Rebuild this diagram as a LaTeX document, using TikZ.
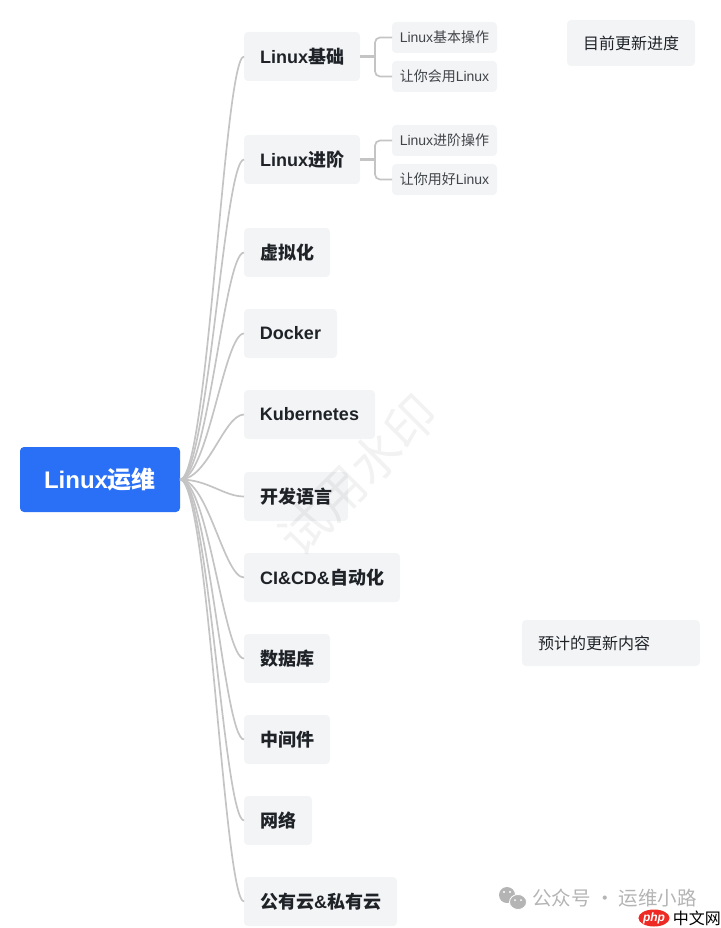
\documentclass[tikz,border=0pt]{standalone}
\usepackage{fontspec}
\usepackage{xcolor}
\usetikzlibrary{positioning,shapes.geometric}
\setmainfont{Liberation Sans}
\newfontfamily\cjk{Noto Sans CJK SC}
\newcommand{\zh}[1]{{\cjk #1}}
\definecolor{rootblue}{HTML}{2970F6}
\definecolor{boxgray}{HTML}{F3F4F6}
\definecolor{inkdark}{HTML}{1F2328}
\definecolor{linegray}{HTML}{C4C4C4}
\definecolor{markgray}{HTML}{B4B4B4}
\definecolor{phpred}{HTML}{EE2A24}
\tikzstyle{box} = [rectangle, rounded corners=4pt, fill=boxgray, text=inkdark,
    inner sep=0pt, outer sep=0pt, align=center]
\tikzstyle{rootbox} = [box, fill=rootblue, text=white, minimum width=160pt,
    minimum height=65pt, font=\bfseries\fontsize{24}{28}\selectfont]
\tikzstyle{topic} = [box, minimum height=49pt, font=\bfseries\fontsize{18}{22}\selectfont]
\tikzstyle{subtopic} = [box, minimum width=105pt, minimum height=31pt,
    text=inkdark!85, font=\fontsize{14}{17}\selectfont]
\tikzstyle{note} = [box, minimum height=46pt, font=\fontsize{16}{20}\selectfont]
\tikzstyle{branch} = [draw=linegray, line width=1.7pt]
\tikzstyle{stem} = [draw=linegray, line width=2.2pt]
\tikzstyle{fork} = [branch, rounded corners=5pt]

\begin{document}
\begin{tikzpicture}[x=1pt, y=-1pt]
  \useasboundingbox (0,0) rectangle (720,928);

  % Place nodes
  \node [rootbox] (root) at (100,479.5) {Linux\zh{运维}};
  \node [topic, minimum width=116pt, anchor=north west] (basic) at (244,32) {Linux\zh{基础}};
  \node [topic, minimum width=116pt, below=54pt of basic.south west, anchor=north west] (advanced) {Linux\zh{进阶}};
  \node [topic, minimum width=86pt, below=44pt of advanced.south west, anchor=north west] (virtual) {\zh{虚拟化}};
  \node [topic, minimum width=93pt, below=32pt of virtual.south west, anchor=north west] (docker) {Docker};
  \node [topic, minimum width=131pt, below=32pt of docker.south west, anchor=north west] (kube) {Kubernetes};
  \node [topic, minimum width=104pt, below=33pt of kube.south west, anchor=north west] (lang) {\zh{开发语言}};
  \node [topic, minimum width=156pt, below=32pt of lang.south west, anchor=north west] (cicd) {CI\&CD\&\zh{自动化}};
  \node [topic, minimum width=86pt, below=32pt of cicd.south west, anchor=north west] (dbase) {\zh{数据库}};
  \node [topic, minimum width=86pt, below=32pt of dbase.south west, anchor=north west] (middle) {\zh{中间件}};
  \node [topic, minimum width=68pt, below=32pt of middle.south west, anchor=north west] (network) {\zh{网络}};
  \node [topic, minimum width=153pt, below=32pt of network.south west, anchor=north west] (cloud) {\zh{公有云}\&\zh{私有云}};

  % Second level
  \node [subtopic, anchor=north west] (basicop) at (392,22) {Linux\zh{基本操作}};
  \node [subtopic, below=8pt of basicop] (basicuse) {\zh{让你会用}Linux};
  \node [subtopic, anchor=north west] (advop) at (392,125) {Linux\zh{进阶操作}};
  \node [subtopic, below=8pt of advop] (advuse) {\zh{让你用好}Linux};
  \coordinate [right=15pt of basic.east] (basicfork);
  \coordinate [right=15pt of advanced.east] (advfork);

  % Side notes
  \node [note, minimum width=128pt, anchor=north west] (progress) at (567,20) {\zh{目前更新进度}};
  \node [note, inner xsep=16pt, text width=146pt, align=left, anchor=north west] (planned) at (522,620) {\zh{预计的更新内容}};

  % Draw edges
  \foreach \child in {basic,advanced,virtual,docker,kube,lang,cicd,dbase,middle,network,cloud}
    \draw [branch] (root.east) .. controls +(28,0) and +(-20,0) .. (\child.west);

  \draw [stem] (basic.east) -- (basicfork);
  \draw [fork] (basicop.west) -| (basicfork) |- (basicuse.west);
  \draw [stem] (advanced.east) -- (advfork);
  \draw [fork] (advop.west) -| (advfork) |- (advuse.west);

  % Watermarks
  \node [rotate=45, text=black, text opacity=.05, font=\cjk\fontsize{50}{50}\selectfont] (trial) at (358,475) {试用水印};
  \node [text=markgray, anchor=west, inner sep=0pt, font=\cjk\fontsize{19.5}{22}\selectfont] (account) at (532,898) {公众号 · 运维小路};
  \fill [markgray] (507,895) ellipse (8pt and 8pt);
  \fill [markgray, draw=white, line width=.8pt] (518,902) ellipse (8.5pt and 7.5pt);
  \fill [white] (504,892) circle (1.2pt) (510,892) circle (1.2pt) (515,900) circle (1pt) (521,900) circle (1pt);
  \node [ellipse, fill=phpred, text=white, inner sep=0pt, minimum width=28pt, minimum height=17pt,
    font=\bfseries\itshape\fontsize{12}{12}\selectfont] (phplogo) at (654,918) {php};
  \node [right=3pt of phplogo, inner sep=0pt, text=black, font=\cjk\fontsize{16}{16}\selectfont] (phpsite) {中文网};
\end{tikzpicture}
\end{document}
